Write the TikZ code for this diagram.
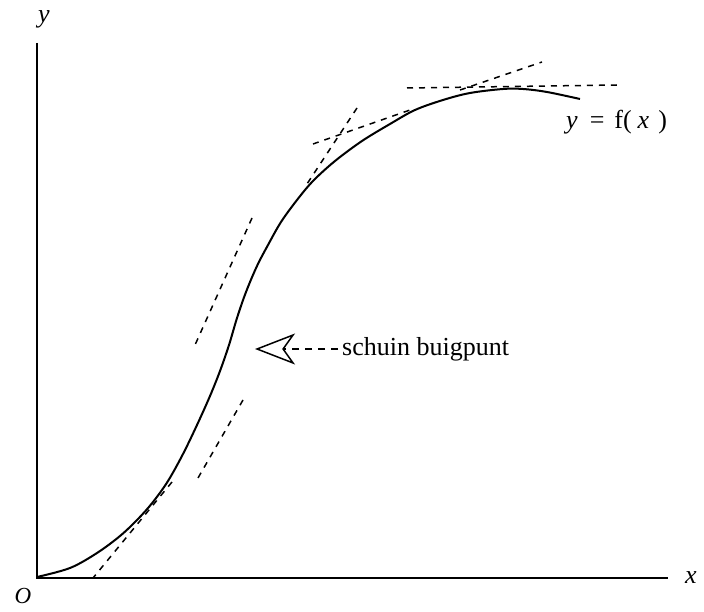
\documentclass[tikz,border=0pt]{standalone}
\usepackage{fontspec}
\setmainfont{Liberation Serif}
\usetikzlibrary{arrows.meta}
\tikzset{
  axis/.style={line width=2pt},
  curve/.style={line width=2pt},
  tangent/.style={line width=1.5pt, dash pattern=on 6pt off 6pt},
  lbl/.style={inner sep=0pt, font=\fontsize{26}{28}\selectfont},
}
\begin{document}
\begin{tikzpicture}[x=1pt,y=-1pt]
\useasboundingbox (0,0) rectangle (704,612);
% axes
\coordinate (O) at (37,578);
\coordinate (ytop) at (37,43);
\coordinate (xend) at (668,578);
\draw[axis] (ytop) -- (O) -- (xend);
\node[lbl] (ylab) at (44,19) {\textit{y}};
\node[lbl] (xlab) at (691,578) {\textit{x}};
\node[lbl, font=\fontsize{23}{26}\selectfont] (olab) at (23,596) {\textit{O}};
% curve
\draw[curve] plot[smooth, tension=0.55] coordinates {
 (37,577) (70,568) (97,553) (120,536) (138,519) (153,502) (168,481)
 (183,454) (197,425) (210,396) (220,371) (229,345) (237,318) (246,292)
 (257,266) (268,245) (281,222) (297,200) (313,181) (335,161) (362,141)
 (390,124) (415,110) (443,100) (470,93) (503,89) (523,89) (547,92) (580,99)};
% tangent lines
\coordinate (d1a) at (252,218); \coordinate (d1b) at (195,345);
\coordinate (d2a) at (243,400); \coordinate (d2b) at (198,478);
\coordinate (d3a) at (172,482); \coordinate (d3b) at (93,578);
\coordinate (d4a) at (357,108); \coordinate (d4b) at (305,187);
\coordinate (d5a) at (313,144); \coordinate (d5b) at (410,110);
\coordinate (d6a) at (407,88);  \coordinate (d6b) at (617,85);
\coordinate (d7a) at (460,90);  \coordinate (d7b) at (542,62);
\foreach \l in {1,...,7} \draw[tangent] (d\l a) -- (d\l b);
% labels
\node[lbl, anchor=west] (flab) at (566,122) {\textit{y}\hspace{12pt}=\hspace{10pt}f(\hspace{6pt}\textit{x}\hspace{9pt})};
\node[lbl, anchor=west] (buig) at (342,349) {schuin buigpunt};
\coordinate (infl) at (255,349);
\draw[line width=1.5pt, dash pattern=on 7pt off 6pt,
  -{Stealth[open, length=40pt, width=31pt, inset=11pt, line width=1.5pt]}]
  ([xshift=-4pt]buig.west) -- (infl);
\end{tikzpicture}
\end{document}
